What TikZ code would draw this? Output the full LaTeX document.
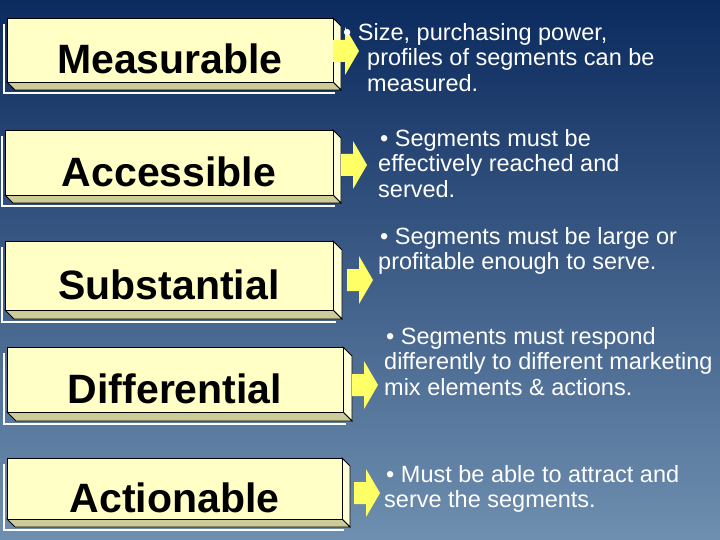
\documentclass[tikz,border=0pt]{standalone}
\usepackage{fontspec}
\setmainfont{Liberation Sans}
\definecolor{bgtop}{HTML}{0B2A5E}
\definecolor{bgbot}{HTML}{6F8FB0}
\definecolor{face}{HTML}{FFFFC6}
\definecolor{side}{HTML}{FFFFD8}
\definecolor{bottom}{HTML}{CDCB98}
\definecolor{arr}{HTML}{FFFF66}
\tikzset{
  lbl/.style={font=\bfseries\fontsize{41}{44}\selectfont, text=black},
  desc/.style={font=\fontsize{23.5}{25.5}\selectfont, text=white, align=left, anchor=north west, inner sep=0pt},
  yarrow/.style={fill=arr, draw=none},
  edge/.style={draw=black, line width=0.8pt},
}
\newcommand{\slab}[7]{% name x1 y1 x2 y2 d label
  \draw[white, line width=2pt] (#2-3,#3+6) -- (#2-3,#5+#6+3) -- (#4+#6-6,#5+#6+3);
  \filldraw[edge, fill=side] (#4,#3) -- (#4+#6,#3+#6) -- (#4+#6,#5+#6) -- (#4,#5) -- cycle;
  \filldraw[edge, fill=bottom] (#2,#5) -- (#4,#5) -- (#4+#6,#5+#6) -- (#2+#6,#5+#6) -- cycle;
  \filldraw[edge, fill=face] (#2,#3) rectangle (#4,#5);
  \node[lbl] (#1) at ({(#2+#4)/2},{(#3+#5)/2+9}) {#7};
}
\newcommand{\yarr}[2]{% x0 yc
  \fill[yarrow] (#1,#2-11) -- (#1+12,#2-11) -- (#1+12,#2-24) -- (#1+26,#2) -- (#1+12,#2+24) -- (#1+12,#2+11) -- (#1,#2+11) -- cycle;
}
\begin{document}
\begin{tikzpicture}[x=1pt,y=-1pt]
\useasboundingbox (0,0) rectangle (720,540);
\shade[top color=bgtop, bottom color=bgbot] (0,0) rectangle (720,540);
\slab{m}{7}{18}{333}{82}{8}{Measurable}
\slab{a}{5}{130}{333}{195}{8}{Accessible}
\slab{s}{5}{241}{333}{310}{9}{Substantial}
\slab{d}{7}{347}{343}{412}{9}{Differential}
\slab{c}{7}{458}{342}{519}{8}{Actionable}
\yarr{333}{51}
\yarr{341}{165}
\yarr{347}{280}
\yarr{352}{385}
\yarr{354}{493}
\node[desc] (tm) at (340,23) {\hspace*{3pt}• Size, purchasing power,\\\hspace*{27pt}profiles of segments can be\\\hspace*{27pt}measured.};
\node[desc] (ta) at (378,129) {\hspace*{2pt}• Segments must be\\effectively reached and\\served.};
\node[desc] (ts) at (378,227) {\hspace*{2pt}• Segments must be large or\\profitable enough to serve.};
\node[desc] (td) at (384,327) {\hspace*{2pt}• Segments must respond\\differently to different marketing\\mix elements \& actions.};
\node[desc] (tc) at (384,465) {\hspace*{2pt}• Must be able to attract and\\serve the segments.};
\end{tikzpicture}
\end{document}
